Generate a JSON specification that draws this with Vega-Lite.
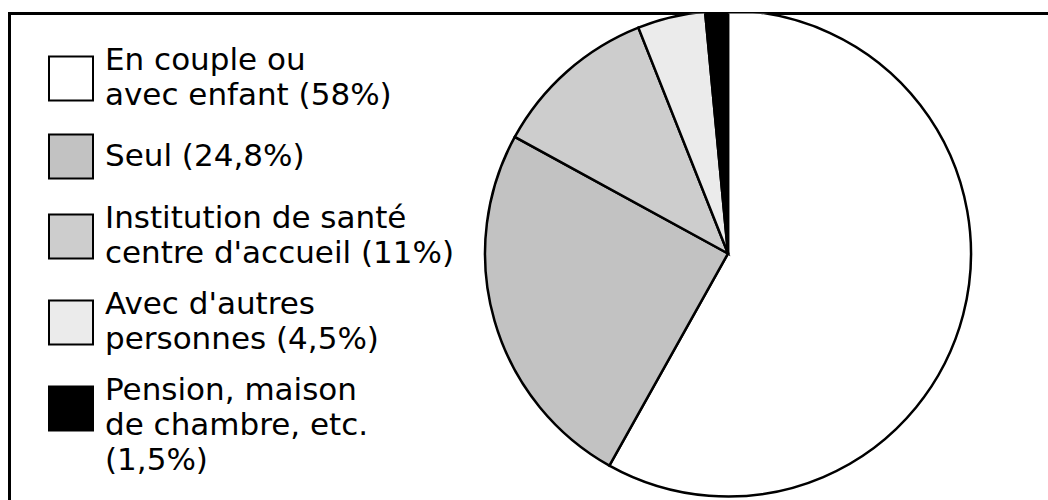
{
  "$schema": "https://vega.github.io/schema/vega-lite/v6.json",
  "width": 1040,
  "height": 490,
  "padding": {"left": 9.5, "top": 13.5, "right": 0, "bottom": 0},
  "autosize": {"type": "none"},
  "background": "white",
  "view": {"stroke": "black", "strokeWidth": 3, "fill": "white"},
  "config": {
    "style": {"guide-label": {"lineHeight": 35}}
  },
  "data": {
    "values": [
      {"rank": 1, "cat": "En couple ou\navec enfant (58%)", "pct": 58},
      {"rank": 2, "cat": "Seul (24,8%)", "pct": 24.8},
      {"rank": 3, "cat": "Institution de santé\ncentre d'accueil (11%)", "pct": 11},
      {"rank": 4, "cat": "Avec d'autres\npersonnes (4,5%)", "pct": 4.5},
      {"rank": 5, "cat": "Pension, maison\nde chambre, etc.\n(1,5%)", "pct": 1.5}
    ]
  },
  "mark": {"type": "arc", "outerRadius": 243, "x": 718.5, "y": 240, "stroke": "black", "strokeWidth": 2.5, "clip": true},
  "encoding": {
    "theta": {"field": "pct", "type": "quantitative", "stack": true},
    "order": {"field": "rank", "type": "quantitative"},
    "fill": {
      "field": "cat",
      "type": "nominal",
      "sort": null,
      "scale": {
        "domain": [
          "En couple ou\navec enfant (58%)",
          "Seul (24,8%)",
          "Institution de santé\ncentre d'accueil (11%)",
          "Avec d'autres\npersonnes (4,5%)",
          "Pension, maison\nde chambre, etc.\n(1,5%)"
        ],
        "range": ["#ffffff", "#c2c2c2", "#cdcdcd", "#ebebeb", "#000000"]
      },
      "legend": {
        "orient": "none",
        "legendX": 38.5,
        "legendY": 42,
        "title": null,
        "symbolType": "square",
        "symbolSize": 1936,
        "symbolStrokeColor": "black",
        "symbolStrokeWidth": 2,
        "symbolOpacity": 1,
        "labelFont": "DejaVu Sans",
        "labelFontSize": 31,
        "labelColor": "black",
        "labelLimit": 0,
        "labelOffset": 11,
        "labelExpr": "split(datum.label, '\\n')",
        "rowPadding": 20,
        "padding": 0,
        "encode": {
          "labels": {
            "update": {
              "baseline": {"signal": "indexof(datum.value, '\\n') >= 0 ? 'line-bottom' : 'middle'"}
            }
          }
        }
      }
    }
  }
}
